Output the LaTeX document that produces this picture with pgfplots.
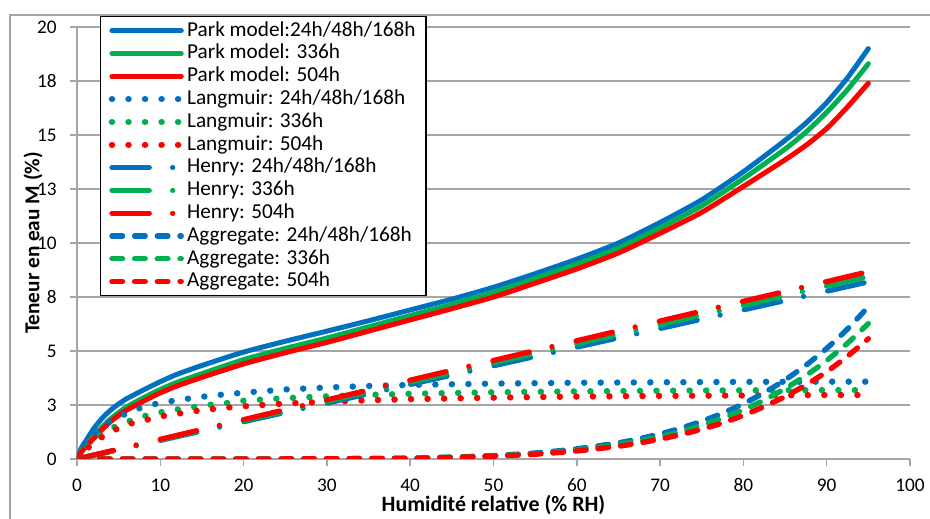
\documentclass[border=0pt]{standalone}
\usepackage{fontspec}
\setmainfont{Carlito}
\usepackage{pgfplots}
\usepackage{pgfplotstable}
\pgfplotsset{compat=1.18}

\definecolor{xlblue}{HTML}{0070C0}
\definecolor{xlgreen}{HTML}{00B050}
\definecolor{xlred}{HTML}{FF0000}
\definecolor{xlgrid}{HTML}{A6A6A6}

% Park model (sum), columns: RH, 24/48/168h, 336h, 504h
\pgfplotstableread{
x    b     g     r
0    0     0     0
0.5  0.5   0.35  0.3
1    0.8   0.6   0.55
2    1.4   1.05  0.95
3    1.88  1.47  1.36
4    2.25  1.85  1.72
5    2.55  2.15  2.02
6    2.8   2.42  2.27
8    3.2   2.84  2.68
10   3.58  3.22  3.06
12   3.92  3.55  3.38
15   4.33  3.95  3.78
20   4.95  4.6   4.4
25   5.45  5.12  4.92
30   5.92  5.6   5.4
35   6.4   6.12  5.92
40   6.9   6.64  6.44
45   7.4   7.16  6.96
50   7.95  7.71  7.5
55   8.58  8.36  8.14
60   9.25  9.02  8.8
65   10.0  9.77  9.54
70   10.95 10.7  10.45
75   12.0  11.72 11.42
80   13.3  12.98 12.62
85   14.75 14.35 13.85
87.5 15.55 15.13 14.52
90   16.5  16.05 15.3
92.5 17.65 17.1  16.3
95   19.0  18.3  17.4
}\park

% Langmuir
\pgfplotstableread{
x    b     g     r
0    0     0     0
1    0.6   0.45  0.4
2    1.1   0.85  0.75
3    1.47  1.15  1.02
4    1.76  1.4   1.25
6    2.12  1.72  1.6
8    2.42  1.98  1.78
10   2.6   2.16  1.97
12   2.72  2.29  2.09
14   2.83  2.4   2.21
16   2.93  2.51  2.3
18   3.0   2.59  2.38
20   3.07  2.7   2.44
25   3.22  2.82  2.57
30   3.31  2.9   2.65
35   3.38  2.97  2.72
40   3.43  3.02  2.77
50   3.49  3.09  2.84
60   3.53  3.13  2.89
70   3.55  3.16  2.92
80   3.57  3.18  2.94
90   3.58  3.19  2.96
95   3.58  3.19  2.96
}\langmuir

% Henry
\pgfplotstableread{
x    b     g     r
0    0     0     0
95   8.2   8.45  8.67
}\henry

% Aggregate
\pgfplotstableread{
x    b     g     r
0    0     0     0
20   0     0     0
30   0.01  0.01  0.01
35   0.02  0.02  0.02
40   0.04  0.04  0.03
45   0.09  0.08  0.07
50   0.16  0.14  0.13
55   0.28  0.25  0.22
60   0.47  0.42  0.37
65   0.75  0.67  0.59
67.5 0.94  0.84  0.74
70   1.16  1.03  0.92
72.5 1.43  1.27  1.13
75   1.75  1.56  1.38
77.5 2.12  1.89  1.67
80   2.56  2.28  2.02
82.5 3.07  2.73  2.43
85   3.66  3.26  2.89
87.5 4.34  3.86  3.43
90   5.12  4.56  4.04
92.5 6.02  5.36  4.76
95   7.05  6.27  5.57
}\aggregate

\pgfplotsset{
  park/.style={line width=3.75bp, line cap=round, line join=round, smooth, tension=0.4},
  lang/.style={line width=4.8bp, line cap=round, dash pattern=on 0.1bp off 12.3bp},
  henry/.style={line width=3.9bp, line cap=round, dash pattern=on 28bp off 17.5bp on 0.1bp off 18.5bp},
  aggr/.style={line width=4bp, line cap=round, line join=round, smooth, tension=0.4, dash pattern=on 8bp off 9bp},
}

\begin{document}
\begin{tikzpicture}
\begin{axis}[
  at={(0,0)}, anchor=south west,
  scale only axis,
  width=624.75bp, height=324bp,
  xmin=0, xmax=100, ymin=0, ymax=20,
  axis lines*=left,
  axis line style={xlgrid, line width=1.1bp},
  ymajorgrids,
  grid style={xlgrid, line width=1.1bp},
  xtick={0,10,...,100},
  ytick={0,2.5,5,7.5,10,12.5,15,17.5,20},
  yticklabels={0,3,5,8,10,13,15,18,20},
  tick align=outside,
  major tick length=5.25bp,
  tick style={xlgrid, line width=1.1bp},
  /pgf/number format/assume math mode=true,
  ticklabel style={font=\fontsize{14.5}{16}\selectfont},
  xticklabel style={yshift=-6bp},
  yticklabel style={xshift=-6.5bp},
  xlabel={Humidité relative (\% RH)},
  ylabel={Teneur en eau M (\%)},
  xlabel style={font=\fontsize{16.5}{18}\selectfont\bfseries, at={(axis description cs:0.5,-0.1065)}, anchor=center},
  ylabel style={font=\fontsize{16}{18}\selectfont\bfseries, at={(axis description cs:-0.0528,0.5)}, anchor=center},
  legend cell align=left,
  legend image code/.code={\draw[#1] (0bp,0bp) -- (52bp,0bp);},
  legend style={at={(axis description cs:0.0276,1.0255)}, anchor=north west,
    draw=black, line width=1.1bp, fill=white,
    font=\fontsize{16}{18}\selectfont,
    inner xsep=6bp, inner ysep=2bp,
    nodes={text height=11.5bp, text depth=3.5bp, inner ysep=1.05bp}},
]
\addplot[park, xlblue] table[x=x, y=b] {\park};
\addlegendentry{Park model:24h/48h/168h}
\addplot[park, xlgreen] table[x=x, y=g] {\park};
\addlegendentry{Park model: 336h}
\addplot[park, xlred] table[x=x, y=r] {\park};
\addlegendentry{Park model: 504h}
\addplot[lang, xlblue] table[x=x, y=b] {\langmuir};
\addlegendentry{Langmuir: 24h/48h/168h}
\addplot[lang, xlgreen] table[x=x, y=g] {\langmuir};
\addlegendentry{Langmuir: 336h}
\addplot[lang, xlred] table[x=x, y=r] {\langmuir};
\addlegendentry{Langmuir: 504h}
\addplot[henry, xlblue] table[x=x, y=b] {\henry};
\addlegendentry{Henry: 24h/48h/168h}
\addplot[henry, xlgreen] table[x=x, y=g] {\henry};
\addlegendentry{Henry: 336h}
\addplot[henry, xlred] table[x=x, y=r] {\henry};
\addlegendentry{Henry: 504h}
\addplot[aggr, xlblue] table[x=x, y=b] {\aggregate};
\addlegendentry{Aggregate: 24h/48h/168h}
\addplot[aggr, xlgreen] table[x=x, y=g] {\aggregate};
\addlegendentry{Aggregate: 336h}
\addplot[aggr, xlred] table[x=x, y=r] {\aggregate};
\addlegendentry{Aggregate: 504h}
\end{axis}
\draw[xlgrid, line width=1.1bp] (-50.25bp,-60bp) -- (-50.25bp,333bp) -- (660bp,333bp);
\pgfresetboundingbox
\path[use as bounding box] (-57.75bp,-45bp) rectangle (639.75bp,344.25bp);
\end{tikzpicture}
\end{document}
